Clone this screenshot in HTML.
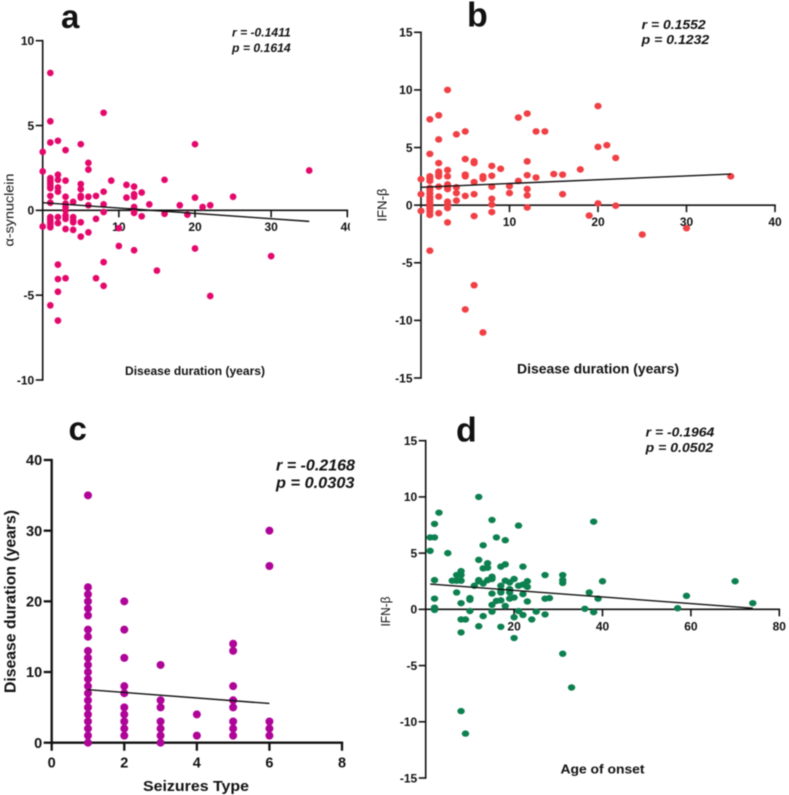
<!DOCTYPE html>
<html lang="en">
<head>
<meta charset="utf-8">
<title>Correlation scatter plots</title>
<style>
html,body{margin:0;padding:0;background:#fff;width:789px;height:795px;overflow:hidden}
svg{display:block;filter:blur(.4px)}
text{font-family:"Liberation Sans",sans-serif;fill:#111}
</style>
</head>
<body>
<svg id="figure" width="789" height="795" viewBox="0 0 789 795" xmlns="http://www.w3.org/2000/svg">
<defs><clipPath id="clip-a"><rect x="0" y="0" width="349.8" height="395"></rect></clipPath></defs>
</svg>
<script>
// Panel a: disease duration vs alpha-synuclein
const aXValues=[0,0,0,
1,1,1,1,1,1,1,1,1,1,1,1,1,1,1,1,
2,2,2,2,2,2,2,2,2,2,2,
3,3,3,3,3,3,3,3,3,3,
4,4,4,4,4,
5,5,5,5,5,5,5,
6,6,6,6,6,
7,7,7,
8,8,8,8,8,8,
9,10,10,11,11,
12,12,12,12,12,12,12,
13,13,14,15,16,16,18,19,
20,20,20,21,22,22,25,30,35];
const aYValues=[3.45,2.3,-0.95,
8.1,5.25,4.0,1.9,1.75,1.6,1.45,1.3,0.85,0.45,-0.4,-0.55,-0.7,-0.85,-1.0,-5.6,
4.1,2.1,1.8,1.35,1.1,-0.4,-0.75,-3.2,-4.05,-4.8,-6.5,
3.55,1.75,0.8,0.4,0.2,0.0,-0.3,-0.5,-1.1,-4.0,
0.5,-0.4,-0.6,-0.7,-1.15,
3.9,1.55,1.25,0.85,0.75,-0.7,-1.55,
2.8,2.4,0.8,0.3,-1.3,
0.85,-0.5,-4.0,
5.75,1.1,0.35,-0.1,-3.05,-4.45,
1.75,-1.05,-2.1,1.5,0.75,
1.4,0.95,0.8,0.2,0,-0.15,-2.35,
1.05,-0.35,0.35,-3.55,1.8,-0.2,0.3,-0.25,
3.9,0.75,-2.25,0.2,0.3,-5.05,0.8,-2.7,2.35];
const aFitX=[0,35];
const aFitY=[0.45,-0.65];
const aXTicks=[10,20,30,40];
const aYTicks=[-10,-5,0,5,10];

// Panel b: disease duration vs IFN-beta
const bXValues=[0,0,0,
1,1,1,1,1,1,1,1,1,1,1,1,1,1,1,1,1,
2,2,2,2,2,2,2,2,2,
3,3,3,3,3,3,3,3,3,3,
4,4,4,4,
5,5,5,5,5,5,
6,6,6,6,6,6,
7,7,7,
8,8,8,8,8,8,
9,10,10,11,11,
12,12,12,12,12,12,
13,13,14,15,16,16,18,19,
20,20,20,21,22,22,25,30,35];
const bYValues=[2.25,0.95,-0.5,
7.45,4.45,2.5,2.3,2.1,1.5,1.3,1.0,0.7,0.5,0.3,0.1,-0.1,-0.3,-0.55,-0.85,-3.95,
7.8,5.7,3.65,2.9,2.7,2.5,1.6,0.75,-0.7,
10.0,3.05,2.5,1.8,1.6,1.4,0.3,0.05,-0.25,-1.5,
6.15,1.55,1.05,0.4,
6.4,4.0,2.65,2.5,0.8,-9.05,
3.8,3.65,2.0,0.95,-0.95,-6.95,
2.5,2.3,-11.05,
3.4,2.55,1.6,0.55,0.05,-0.6,
3.15,1.65,1.05,7.6,2.1,
7.95,3.8,2.6,1.4,0.85,-0.2,
6.4,2.4,6.4,2.7,2.65,0.95,3.1,-0.9,
8.6,5.05,0.15,5.2,4.1,-0.05,-2.55,-2.0,2.5];
const bFitX=[0,35];
const bFitY=[1.55,2.7];
const bXTicks=[10,20,30,40];
const bYTicks=[-15,-10,-5,0,5,10,15];

// Panel c: seizure type vs disease duration
const cXValues=[1,1,1,1,1,1,1,1,1,1,1,1,1,1,1,1,1,1,1,1,1,1,
2,2,2,2,2,2,2,2,2,2,
3,3,3,3,3,3,3,
4,4,
5,5,5,5,5,5,5,5,
6,6,6,6,6];
const cYValues=[35,22,21,20,19,18,16,15,13,12,11,10,9,8,7,6,5,4,3,2,1,0,
20,16,12,8,7,5,4,3,2,1,
11,6,5,3,2,1,0,
4,1,
14,13,8,6,5,3,2,1,
30,25,3,2,1];
const cFitX=[1,6];
const cFitY=[7.5,5.55];
const cXTicks=[0,2,4,6,8];
const cYTicks=[0,10,20,30,40];

// Panel d: age of onset vs IFN-beta
const dXValues=[1,2,2,3,1,2,2,2,2,5,6,7,7,8,8,8,7,8,8,9,8,8,9,
10,10,10,11,12,12,12,12,12,13,13,13,13,14,14,14,
15,15,15,15,15,15,16,16,17,17,17,17,17,17,
18,18,18,18,19,19,19,19,20,20,20,20,21,21,21,
22,22,22,22,23,23,23,24,25,27,27,27,28,
31,31,31,31,33,36,37,38,38,39,40,57,59,70,74];
const dYValues=[6.4,6.4,7.6,8.6,5.2,2.6,0.95,0.15,-0.05,5.0,2.55,3.05,2.55,3.4,3.05,2.55,1.5,0.55,-0.9,-0.9,-2.05,-9.05,-11.05,
1.0,0.85,-0.15,2.1,10.0,4.4,2.6,2.5,-1.5,5.7,3.65,2.3,-0.6,4.1,3.7,2.6,
7.95,2.9,2.7,1.4,0.4,-0.2,6.4,0.75,3.8,2.1,1.7,1.5,0.8,-1.55,
6.15,4.0,2.55,0.3,2.4,1.8,1.5,0.95,2.7,1.05,-0.7,-2.55,7.45,2.1,-0.15,
3.8,2.2,1.35,-0.5,2.5,2.0,0.7,-0.9,-0.2,3.05,0.95,-0.45,1.0,
3.05,2.6,2.35,-3.95,-6.95,0.05,1.5,7.8,-0.25,0.95,2.5,0.1,1.2,2.5,0.55];
const dFitX=[1,74];
const dFitY=[2.25,0.1];
const dXTicks=[20,40,60,80];
const dYTicks=[-15,-10,-5,0,5,10,15];

const NS='http://www.w3.org/2000/svg';
const figure=document.getElementById('figure');

function make(tag,attrs,parent){
  const el=document.createElementNS(NS,tag);
  for(const k in attrs){el.setAttribute(k,attrs[k]);}
  parent.appendChild(el);
  return el;
}
function scale(d0,d1,r0,r1){
  return function(v){return r0+(v-d0)*(r1-r0)/(d1-d0);};
}
function label(parent,name,str,x,y,size,weight,style,anchor,width,rotate){
  const attrs={x:x,y:y,'font-size':size,'font-weight':weight,'font-style':style,'text-anchor':anchor};
  if(width){attrs.textLength=width;attrs.lengthAdjust='spacingAndGlyphs';}
  if(rotate){attrs.transform='rotate(-90 '+x+' '+y+')';}
  const t=make('text',attrs,parent);
  t.textContent=str;
  
  
  return t;
}

function drawPanel(p){
  const g=make('g',{},figure);
  
  
  const sx=scale(p.xDomain[0],p.xDomain[1],p.left,p.right);
  const sy=scale(p.yDomain[0],p.yDomain[1],p.bottom,p.top);

  const yAxis=make('line',{x1:p.left,x2:p.left,y1:p.top-p.axisW/2,y2:p.bottom+p.axisW/2,stroke:'#111','stroke-width':p.axisW},g);
  
  
  const xAxis=make('line',{x1:p.left,x2:p.right+p.axisW/2,y1:sy(p.xAxisAt),y2:sy(p.xAxisAt),stroke:'#111','stroke-width':p.axisW},g);
  
  

  p.yTicks.forEach(function(v){
    const tick=make('line',{x1:p.left-p.tickLen,x2:p.left,y1:sy(v),y2:sy(v),stroke:'#111','stroke-width':p.axisW},g);
    
    
    label(g,'y-tick-label',String(v),p.left-p.tickLen-1.5,sy(v)+p.tickFont*0.36,p.tickFont,'bold','normal','end');
  });
  p.xTicks.forEach(function(v){
    const tick=make('line',{x1:sx(v),x2:sx(v),y1:sy(p.xAxisAt),y2:sy(p.xAxisAt)+p.tickLen,stroke:'#111','stroke-width':p.axisW},g);
    
    
    const t=label(g,'x-tick-label',String(v),sx(v),sy(p.xAxisAt)+p.xLabelOffset,p.tickFont,'bold','normal','middle');
    if(p.clipLabels){t.setAttribute('clip-path','url(#clip-a)');}
  });

  p.xs.forEach(function(x,i){
    const dot=make('ellipse',{cx:sx(x),cy:sy(p.ys[i]),rx:p.rx,ry:p.ry,fill:p.color},g);
    
    
  });

  const fit=make('line',{x1:sx(p.fitX[0]),y1:sy(p.fitY[0]),x2:sx(p.fitX[1]),y2:sy(p.fitY[1]),stroke:'#111','stroke-width':1.4},g);
  
  
}

drawPanel({id:'a',xDomain:[0,40],yDomain:[-10,10],left:42.7,right:347.3,top:40.7,bottom:380,xAxisAt:0,
  xs:aXValues,ys:aYValues,fitX:aFitX,fitY:aFitY,xTicks:aXTicks,yTicks:aYTicks,
  color:'#e5086c',rx:3.35,ry:3.35,axisW:1.6,tickLen:7,tickFont:12,xLabelOffset:20.5,clipLabels:true});
drawPanel({id:'b',xDomain:[0,40],yDomain:[-15,15],left:421,right:775,top:32.3,bottom:378,xAxisAt:0,
  xs:bXValues,ys:bYValues,fitX:bFitX,fitY:bFitY,xTicks:bXTicks,yTicks:bYTicks,
  color:'#f04045',rx:3.6,ry:3.3,axisW:1.6,tickLen:7,tickFont:12,xLabelOffset:21,clipLabels:false});
drawPanel({id:'c',xDomain:[0,8],yDomain:[0,40],left:51.7,right:342,top:460,bottom:742.7,xAxisAt:0,
  xs:cXValues,ys:cYValues,fitX:cFitX,fitY:cFitY,xTicks:cXTicks,yTicks:cYTicks,
  color:'#ae0498',rx:4,ry:4,axisW:2.3,tickLen:8,tickFont:14.5,xLabelOffset:25,clipLabels:false});
drawPanel({id:'d',xDomain:[0,80],yDomain:[-15,15],left:425.7,right:779.3,top:440.7,bottom:778,xAxisAt:0,
  xs:dXValues,ys:dYValues,fitX:dFitX,fitY:dFitY,xTicks:dXTicks,yTicks:dYTicks,
  color:'#0d8050',rx:3.7,ry:3.2,axisW:1.6,tickLen:7,tickFont:12,xLabelOffset:21,clipLabels:false});

// Panel letters
label(figure,'panel-label-a','a',61,28,33,'bold','normal','start');
label(figure,'panel-label-b','b',467,26.5,34,'bold','normal','start');
label(figure,'panel-label-c','c',68.5,440,33,'bold','normal','start');
label(figure,'panel-label-d','d',456,441.5,34,'bold','normal','start');

// Axis titles
label(figure,'x-axis-title-a','Disease duration (years)',195,375,12,'bold','normal','middle',140);
label(figure,'y-axis-title-a','α-synuclein',13.5,210,12.5,'normal','normal','middle',73,true);
label(figure,'x-axis-title-b','Disease duration (years)',598,373.5,13.5,'bold','normal','middle',162);
label(figure,'y-axis-title-b','IFN-β',386.5,205,13,'normal','normal','middle',33,true);
label(figure,'x-axis-title-c','Seizures Type',196,791,15,'bold','normal','middle',106);
label(figure,'y-axis-title-c','Disease duration (years)',15.5,601.5,15.5,'bold','normal','middle',183,true);
label(figure,'x-axis-title-d','Age of onset',602.5,773.5,13,'bold','normal','middle',84);
label(figure,'y-axis-title-d','IFN-β',390,611.5,12.5,'normal','normal','middle',30,true);

// Correlation annotations
label(figure,'r-value-a','r = -0.1411',232,36.5,12,'bold','italic','start',58.7);
label(figure,'p-value-a','p = 0.1614',232,52,12,'bold','italic','start',58.7);
label(figure,'r-value-b','r = 0.1552',641.7,29,13,'bold','italic','start',64);
label(figure,'p-value-b','p = 0.1232',641.7,44,13,'bold','italic','start',67.5);
label(figure,'r-value-c','r = -0.2168',276,470.5,15.5,'bold','italic','start',79);
label(figure,'p-value-c','p = 0.0303',276,488,15.5,'bold','italic','start',78.5);
label(figure,'r-value-d','r = -0.1964',645.7,436.5,12.5,'bold','italic','start',68.6);
label(figure,'p-value-d','p = 0.0502',645.7,452,12.5,'bold','italic','start',67.5);
</script>
</body>
</html>
